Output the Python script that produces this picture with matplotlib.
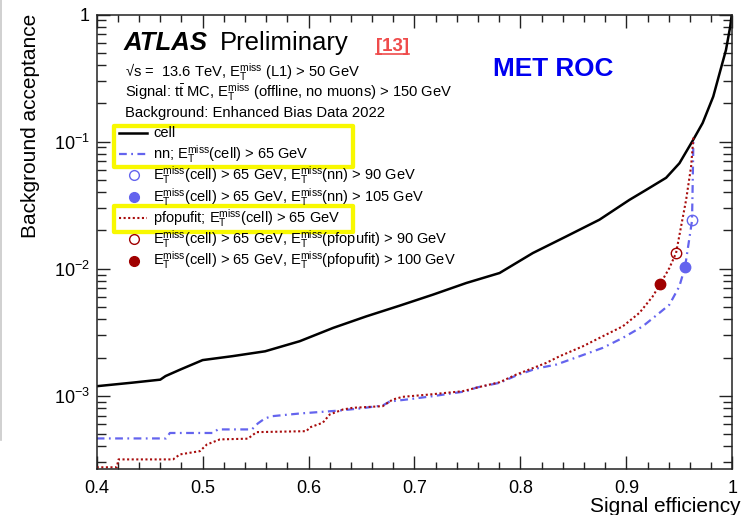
import matplotlib
matplotlib.use('Agg')
import matplotlib.pyplot as plt
from matplotlib.lines import Line2D
from matplotlib.patches import Rectangle
from matplotlib.ticker import LogLocator, FuncFormatter, MultipleLocator, NullFormatter
import numpy as np

# ---------------- data ----------------
cell_x = [0.400, 0.434, 0.460, 0.465, 0.479, 0.500, 0.528, 0.559, 0.5917, 0.6231,
          0.6546, 0.6860, 0.7174, 0.7489, 0.7803, 0.8117, 0.8432, 0.8746, 0.9029, 0.9187,
          0.9375, 0.9501, 0.963, 0.972, 0.982, 0.988, 0.994, 0.998, 0.9995]
cell_y = [1.19e-3, 1.27e-3, 1.34e-3, 1.43e-3, 1.61e-3, 1.91e-3, 2.05e-3, 2.24e-3, 2.69e-3, 3.42e-3,
          4.22e-3, 5.12e-3, 6.25e-3, 7.72e-3, 9.25e-3, 1.328e-2, 1.794e-2, 2.43e-2, 3.48e-2, 4.17e-2,
          5.19e-2, 6.76e-2, 0.103, 0.140, 0.226, 0.345, 0.525, 0.80, 1.0]

nn_x = [0.400, 0.4654, 0.4691, 0.5097, 0.5144, 0.5465, 0.5521, 0.5587, 0.5653, 0.5917,
        0.6294, 0.6483, 0.6700, 0.6766, 0.6926, 0.7171, 0.7492, 0.7586, 0.7803, 0.7961,
        0.8149, 0.8338, 0.8558, 0.8777, 0.8966, 0.9154, 0.9312, 0.9406, 0.9500, 0.9554,
        0.9620, 0.9633]
nn_y = [4.62e-4, 4.62e-4, 5.10e-4, 5.10e-4, 5.44e-4, 5.44e-4, 6.06e-4, 6.63e-4, 6.91e-4, 7.26e-4,
        7.66e-4, 7.95e-4, 8.39e-4, 9.02e-4, 9.35e-4, 9.93e-4, 1.087e-3, 1.162e-3, 1.265e-3, 1.444e-3,
        1.638e-3, 1.761e-3, 2.047e-3, 2.383e-3, 2.855e-3, 3.52e-3, 4.49e-3, 5.21e-3, 7.26e-3, 1.031e-2,
        2.395e-2, 0.1031]

pf_x = [0.400, 0.4189, 0.4206, 0.4720, 0.4786, 0.4974, 0.5040, 0.5163, 0.5427, 0.5509,
        0.5980, 0.6011, 0.6134, 0.6200, 0.6323, 0.6418, 0.6700, 0.6794, 0.6889, 0.7143,
        0.7454, 0.7643, 0.7803, 0.7961, 0.8244, 0.8369, 0.8589, 0.8777, 0.8966, 0.9123,
        0.9249, 0.9321, 0.9406, 0.9469, 0.9564, 0.9611, 0.9633]
pf_y = [2.74e-4, 2.74e-4, 3.16e-4, 3.16e-4, 3.46e-4, 3.67e-4, 4.14e-4, 4.54e-4, 4.60e-4, 5.18e-4,
        5.27e-4, 5.64e-4, 6.14e-4, 7.13e-4, 7.80e-4, 8.05e-4, 8.29e-4, 9.35e-4, 9.82e-4, 1.024e-3,
        1.087e-3, 1.19e-3, 1.279e-3, 1.47e-3, 1.816e-3, 2.047e-3, 2.452e-3, 2.94e-3, 3.52e-3, 4.49e-3,
        6.06e-3, 7.62e-3, 1.013e-2, 1.328e-2, 3.48e-2, 6.36e-2, 0.1094]

# working points: [open, filled]
nn_wp_x = [0.9620, 0.9554]
nn_wp_y = [0.02395, 0.01031]
pf_wp_x = [0.9469, 0.9321]
pf_wp_y = [0.01328, 0.00762]

EMISS = r'$\mathrm{E}_{\mathrm{T}}^{\mathrm{miss}}$'
legend_labels = [
    'cell',
    'nn; ' + EMISS + '(cell) > 65 GeV',
    EMISS + '(cell) > 65 GeV, ' + EMISS + '(nn) > 90 GeV',
    EMISS + '(cell) > 65 GeV, ' + EMISS + '(nn) > 105 GeV',
    'pfopufit; ' + EMISS + '(cell) > 65 GeV',
    EMISS + '(cell) > 65 GeV, ' + EMISS + '(pfopufit) > 90 GeV',
    EMISS + '(cell) > 65 GeV, ' + EMISS + '(pfopufit) > 100 GeV',
]
info_lines = [
    '√s =  13.6 TeV, ' + EMISS + ' (L1) > 50 GeV',
    r'Signal: $\mathrm{t\bar{t}}$ MC, ' + EMISS + ' (offline, no muons) > 150 GeV',
    'Background: Enhanced Bias Data 2022',
]
x_label = 'Signal efficiency'
y_label = 'Background acceptance'

# ---------------- style ----------------
plt.rcParams['font.family'] = ['Liberation Sans', 'DejaVu Sans']
plt.rcParams['mathtext.fontset'] = 'custom'
plt.rcParams['mathtext.rm'] = 'Liberation Sans'
plt.rcParams['mathtext.it'] = 'Liberation Sans:italic'
plt.rcParams['mathtext.bf'] = 'Liberation Sans:bold'
plt.rcParams['mathtext.sf'] = 'Liberation Sans'

BLUE = '#6464ee'
RED = '#a80c0c'
RED_FILL = '#a00000'
BLACK = '#000000'
YELLOW = '#f8f800'

W, H = 743, 515
fig = plt.figure(figsize=(W / 100, H / 100), dpi=100)


def fx(px):
    return px / W


def fy(py):
    return 1 - py / H


ax_l, ax_r, ax_t, ax_b = 96.7, 732.3, 14.5, 468.5
ax = fig.add_axes([fx(ax_l), fy(ax_b), (ax_r - ax_l) / W, (ax_b - ax_t) / H])
ax.set_yscale('log')

nn_style = dict(color=BLUE, lw=1.6, linestyle=(0, (3.5, 2.0, 0.8, 2.0)))
pf_style = dict(color=RED, lw=1.5, linestyle=(0, (1.0, 1.2)))
cell_style = dict(color=BLACK, lw=1.8)

ax.plot(cell_x, cell_y, **cell_style)
ax.plot(nn_x, nn_y, **nn_style)
ax.plot(pf_x, pf_y, **pf_style)
ax.plot(nn_wp_x[:1], nn_wp_y[:1], 'o', ms=7.5, mfc='none', mec=BLUE, mew=1.0, zorder=5)
ax.plot(nn_wp_x[1:], nn_wp_y[1:], 'o', ms=7.5, mfc=BLUE, mec=BLUE, zorder=5)
ax.plot(pf_wp_x[:1], pf_wp_y[:1], 'o', ms=7.5, mfc='none', mec=RED_FILL, mew=1.0, zorder=5)
ax.plot(pf_wp_x[1:], pf_wp_y[1:], 'o', ms=7.5, mfc=RED_FILL, mec=RED_FILL, zorder=5)

ax.set_xlim(0.4, 1.0)
ax.set_ylim(2.68e-4, 1.0)
ax.xaxis.set_major_locator(MultipleLocator(0.1))
ax.xaxis.set_minor_locator(MultipleLocator(0.02))
ax.yaxis.set_major_locator(LogLocator(base=10, numticks=10))
ax.yaxis.set_minor_locator(LogLocator(base=10, subs=np.arange(2, 10), numticks=30))
ax.yaxis.set_minor_formatter(NullFormatter())
ax.xaxis.set_major_formatter(FuncFormatter(lambda v, p: '1' if abs(v - 1) < 1e-9 else f'{v:.1f}'))


def yfmt(v, p):
    n = int(round(np.log10(v)))
    return '1' if n == 0 else r'$\mathrm{10^{%d}}$' % n


ax.yaxis.set_major_formatter(FuncFormatter(yfmt))
ax.tick_params(which='both', direction='in', top=True, right=True, width=1.0, color='#222222')
ax.tick_params(axis='x', which='major', length=9.2, labelsize=13, pad=8)
ax.tick_params(axis='x', which='minor', length=4.8)
ax.tick_params(axis='y', which='major', length=9.4, labelsize=13, pad=5)
ax.tick_params(axis='y', which='minor', length=6.5)
for s in ax.spines.values():
    s.set_linewidth(1.1)
    s.set_color('#222222')

# axis titles
fig.text(fx(30.5), fy(13.5), y_label, rotation=90, ha='center', va='top', fontsize=15)
fig.text(fx(741), fy(512.5), x_label, ha='right', va='baseline', fontsize=15)

# ATLAS label
fig.text(fx(123.3), fy(50), 'ATLAS', fontsize=18.5, fontweight='bold', fontstyle='italic', va='baseline')
fig.text(fx(220), fy(50), 'Preliminary', fontsize=18.5, va='baseline')
ref = fig.text(fx(376), fy(51), '[13]', fontsize=13.5, fontweight='bold', color='#ef4b4b', va='baseline')
fig.text(fx(493), fy(76), 'MET ROC', fontsize=18.8, fontweight='bold', color='#0000f0', va='baseline')

for i, t in enumerate(info_lines):
    fig.text(fx(125), fy(77 + i * 20), t, fontsize=10.6, va='baseline')

# legend (manual, ROOT-like)
handles = [
    ('line', cell_style),
    ('line', nn_style),
    ('open', BLUE),
    ('filled', BLUE),
    ('line', pf_style),
    ('open', RED_FILL),
    ('filled', RED_FILL),
]
for i, (lab, (kind, st)) in enumerate(zip(legend_labels, handles)):
    base = 137.3 + i * 21.3
    yc = base - 4.5
    if kind == 'line':
        fig.add_artist(Line2D([fx(119.3), fx(146.7)], [fy(yc), fy(yc)], **st))
    elif kind == 'open':
        fig.add_artist(Line2D([fx(133.5)], [fy(yc)], marker='o', ms=7.0, mfc='none', mec=st, mew=1.0, lw=0))
    else:
        fig.add_artist(Line2D([fx(133.5)], [fy(yc)], marker='o', ms=7.0, mfc=st, mec=st, lw=0))
    fig.text(fx(153.3), fy(base), lab, fontsize=10.5, va='baseline')

# yellow highlight boxes
for (x0, y0, x1, y1) in [(113.8, 126, 353, 167), (113.8, 206.3, 353, 232)]:
    fig.add_artist(Rectangle((fx(x0), fy(y1)), (x1 - x0) / W, (y1 - y0) / H,
                             transform=fig.transFigure, fill=False, ec=YELLOW, lw=3.1,
                             joinstyle='round'))

# left grey border of the screenshot
fig.add_artist(Line2D([fx(0.8), fx(0.8)], [fy(0), fy(440)], color='#c8c8c8', lw=1.2))

# underline of the reference tag
fig.canvas.draw()
bb = ref.get_window_extent(fig.canvas.get_renderer())
fig.add_artist(Line2D([bb.x0 / W, bb.x1 / W], [fy(53.8), fy(53.8)], color='#ef4b4b', lw=1.2))

fig.savefig('out.png', dpi=100)
